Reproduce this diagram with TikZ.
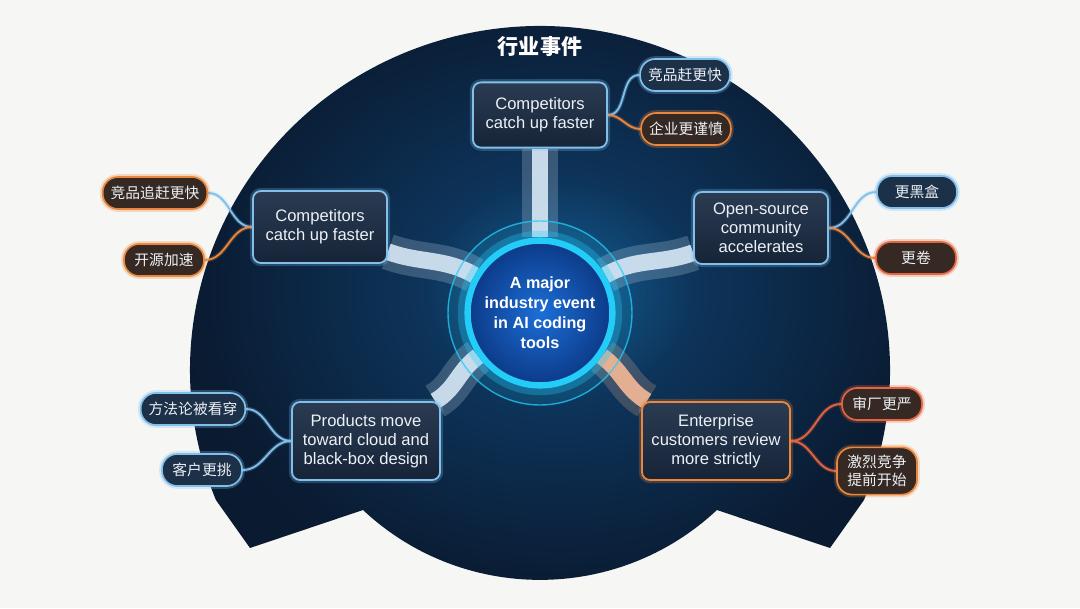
\documentclass[tikz,border=0pt]{standalone}
\usepackage{fontspec}
\setmainfont{Liberation Sans}
\newfontfamily\cjk{Noto Sans CJK SC}
\usepackage{tikz}
\usetikzlibrary{positioning, backgrounds}
\definecolor{BgPaper}{RGB}{246,247,245}
\definecolor{NavyDeep}{RGB}{9,21,40}
\definecolor{NavyEdge}{RGB}{10,27,50}
\definecolor{NavyMid}{RGB}{13,52,90}
\definecolor{NavyGlow}{RGB}{20,95,150}
\definecolor{HubRing}{RGB}{35,205,248}
\definecolor{HubIn}{RGB}{28,110,215}
\definecolor{HubOut}{RGB}{12,58,135}
\definecolor{BoxTop}{RGB}{42,59,82}
\definecolor{BoxBot}{RGB}{22,36,56}
\definecolor{LineBlue}{RGB}{130,192,236}
\definecolor{LineOrange}{RGB}{235,135,60}
\definecolor{LineRed}{RGB}{228,100,64}
\definecolor{ChipNavy}{RGB}{28,48,72}
\definecolor{ChipBrown}{RGB}{54,41,35}
\definecolor{BeamBlue}{RGB}{215,232,246}
\definecolor{BeamPeach}{RGB}{245,185,150}
\definecolor{TextWhite}{RGB}{236,241,246}
\pgfdeclareradialshading{bgglow}{\pgfpoint{0bp}{0bp}}{%
  color(0bp)=(NavyGlow); color(9bp)=(NavyMid); color(24bp)=(NavyEdge);
  color(42bp)=(NavyDeep); color(100bp)=(NavyDeep)}

\begin{document}
\begin{tikzpicture}[x=0.025cm, y=0.025cm,
    box/.style={rectangle, rounded corners=0.2cm, draw=#1, line width=1.3pt,
                top color=BoxTop, bottom color=BoxBot, text=TextWhite,
                font=\fontsize{11.8}{13.6}\selectfont, align=center,
                minimum width=3.35cm, minimum height=1.8cm,
                preaction={draw=#1, line width=4.5pt, draw opacity=0.25}},
    chip/.style={rectangle, rounded corners=0.38cm, draw=#1, line width=1.2pt,
                 text=TextWhite, font=\cjk\fontsize{10.5}{13}\selectfont,
                 align=center, minimum width=2cm, minimum height=0.8cm,
                 inner xsep=0.2cm,
                 preaction={draw=#1, line width=4pt, draw opacity=0.28}},
    chipb/.style={chip=LineBlue, fill=ChipNavy},
    chipo/.style={chip=LineOrange, fill=ChipBrown},
    chipr/.style={chip=LineRed, fill=ChipBrown},
    hub/.style={circle, minimum size=3.45cm, draw=HubRing, line width=4.5pt,
                inner color=HubIn, outer color=HubOut, text=white, align=center,
                font=\bfseries\fontsize{11.5}{14.2}\selectfont,
                preaction={draw=HubRing, line width=14pt, draw opacity=0.3}},
    link/.style={draw=#1, line width=1.3pt,
                 preaction={draw=#1, line width=3pt, draw opacity=0.25}},
    beam/.style={draw=#1, line width=0.42cm, draw opacity=0.9,
                 preaction={draw=#1, line width=0.9cm, draw opacity=0.22}}
  ]
  \useasboundingbox (0,0) rectangle (1080,608);

  % hub and title
  \node[hub] (hub) at (540,295) {A major\\industry event\\in AI coding\\tools};
  \node[font=\cjk\bfseries\fontsize{15}{18}\selectfont, text=white] (title)
        at (540,561) {行业事件};

  % first ring of boxes
  \node[box=LineBlue, minimum height=1.63cm] (t) at (540,493) {Competitors\\catch up faster};
  \node[box=LineBlue] (l) at (320,381) {Competitors\\catch up faster};
  \node[box=LineBlue] (r) at (761,380) {Open-source\\community\\accelerates};
  \node[box=LineBlue, minimum width=3.7cm, minimum height=1.95cm]
        (bl) at (366,167) {Products move\\toward cloud and\\black-box design};
  \node[box=LineOrange, minimum width=3.7cm, minimum height=1.95cm]
        (br) at (716,167) {Enterprise\\customers review\\more strictly};

  % outer chips
  \node[chipb] (t1) at (685,533) {竞品赶更快};
  \node[chipo] (t2) at (686,479) {企业更谨慎};
  \node[chipo] (l1) at (155,415) {竞品追赶更快};
  \node[chipo] (l2) at (164,348) {开源加速};
  \node[chipb] (r1) at (917,416) {更黑盒};
  \node[chipr] (r2) at (916,350) {更卷};
  \node[chipb] (bl1) at (193,199) {方法论被看穿};
  \node[chipb] (bl2) at (202,138) {客户更挑};
  \node[chipr] (br1) at (882,204) {审厂更严};
  \node[chipo, minimum height=1.18cm] (br2) at (877,137) {激烈竞争\\提前开始};

  \begin{scope}[on background layer]
    \fill[BgPaper] (0,0) rectangle (1080,608);
    % dark backdrop with the notched bottom
    \shade[shading=bgglow] (864,108)
      arc[start angle=-22.2, end angle=202.2, x radius=350, y radius=344]
      -- (250,60) -- (363,98)
      arc[start angle=226.9, end angle=313.1, radius=259]
      -- (830,60) -- cycle;
    \fill[HubRing, opacity=0.12] (hub.center) circle[radius=92];

    % beams from the hub
    \draw[beam=BeamBlue] (hub) -- (t);
    \draw[beam=BeamBlue] (hub) to[out=150, in=-20] (l);
    \draw[beam=BeamBlue] (hub) to[out=30, in=200] (r);
    \draw[beam=BeamBlue] (hub) to[out=215, in=30] (bl);
    \draw[beam=BeamPeach] (hub) to[out=-35, in=150] (br);
    \draw[HubRing, line width=1pt, opacity=0.75] (hub.center) circle[radius=92];

    % thin links to chips
    \draw[link=LineBlue] (t.east) to[out=0, in=180] (t1.west);
    \draw[link=LineOrange] (t.east) to[out=0, in=180] (t2.west);
    \draw[link=LineBlue] (l.west) to[out=180, in=0] (l1.east);
    \draw[link=LineOrange] (l.west) to[out=180, in=0] (l2.east);
    \draw[link=LineBlue] (r.east) to[out=0, in=180] (r1.west);
    \draw[link=LineOrange] (r.east) to[out=0, in=180] (r2.west);
    \draw[link=LineBlue] (bl.west) to[out=180, in=0] (bl1.east);
    \draw[link=LineBlue] (bl.west) to[out=180, in=0] (bl2.east);
    \draw[link=LineRed] (br.east) to[out=0, in=180] (br1.west);
    \draw[link=LineRed] (br.east) to[out=0, in=180] (br2.west);
  \end{scope}
\end{tikzpicture}
\end{document}
